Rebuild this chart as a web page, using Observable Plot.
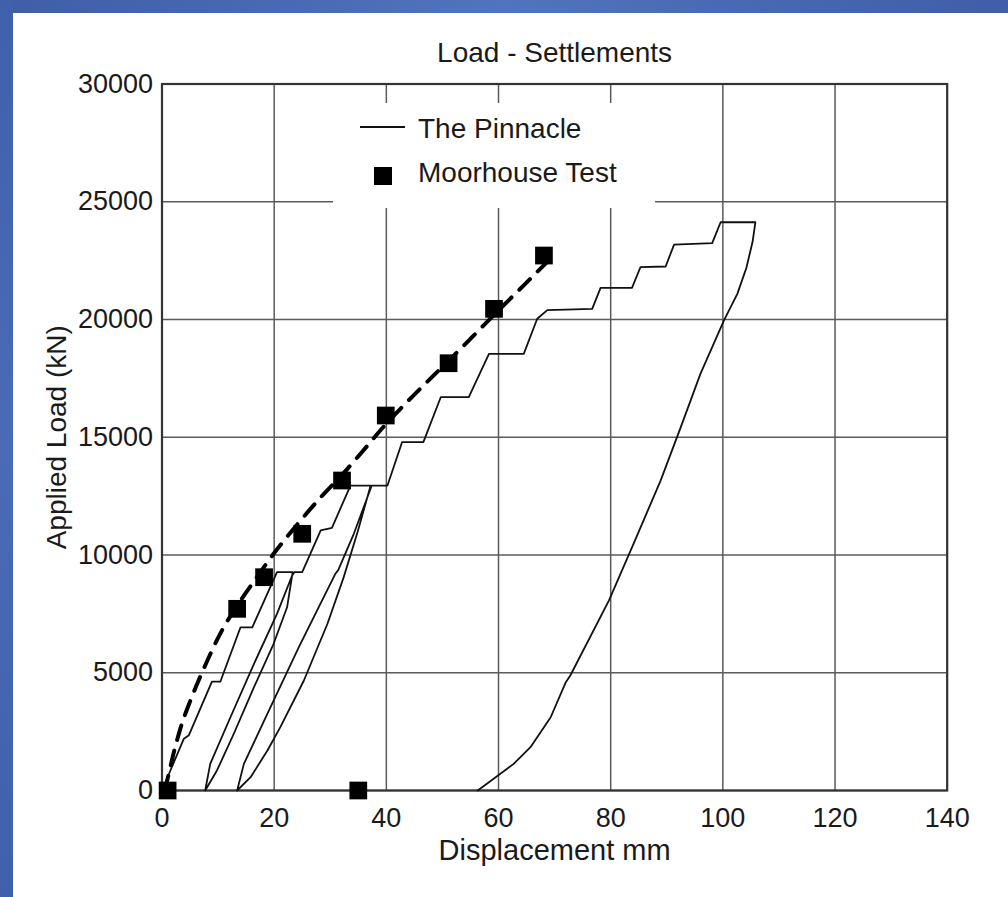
<!DOCTYPE html>
<html>
<head>
<meta charset="utf-8">
<script src="https://cdn.jsdelivr.net/npm/d3@7"></script>
<script src="https://cdn.jsdelivr.net/npm/@observablehq/plot@0.6"></script>
<style>
  html, body { margin: 0; padding: 0; overflow: hidden; background: #fff; }
  body { width: 1008px; height: 897px; position: relative; font-family: "Liberation Sans", Arial, sans-serif; }
  #bandTop { position: absolute; left: 0; top: 0; width: 1008px; height: 13px;
    background: linear-gradient(90deg, #3e5ea8 0%, #5074bd 50%, #3e5ea8 100%); }
  #bandLeft { position: absolute; left: 0; top: 0; width: 13px; height: 897px;
    background: linear-gradient(180deg, #3f60aa 0%, #4a6cb6 50%, #3f60aa 100%); }
  #panel { position: absolute; left: 13px; top: 13px; width: 995px; height: 884px; background: #fff; }
  #panel svg { display: block; }
  #legend { position: absolute; left: 320px; top: 90px; width: 322px; height: 105px; background: #fff; }
</style>
</head>
<body>
<div id="bandTop"></div>
<div id="bandLeft"></div>
<div id="panel">
  <div id="chart"></div>
  <div id="legend"></div>
</div>
<script>
// ---- data ----
const xTicks = [0, 20, 40, 60, 80, 100, 120, 140];
const yTicks = [0, 5000, 10000, 15000, 20000, 25000, 30000];

// The Pinnacle (load-settlement trace, in drawing order)
const pinnacleX = [0, 1.5, 3.9, 4.8, 8.9, 10.4, 14.0, 16.1, 20.5, 23.3,
  22.3, 19.9, 16.4, 12.8, 9.8, 7.7,
  8.6, 12.2, 16.4, 20.5, 23.2, 23.6, 25.0,
  28.3, 30.3, 33.6, 37.2,
  34.9, 32.4, 29.5, 25.3, 21.1, 18.8, 15.8, 13.4,
  14.6, 18.8, 24.4, 30.9, 31.4, 34.2, 37.4, 40.2,
  42.8, 46.6, 49.7, 54.7, 58.3, 64.5, 66.9, 68.7, 76.7, 78.2, 83.8, 85.3, 89.8, 91.3, 98.1, 99.6, 105.8,
  105.3, 104.2, 102.6, 100.2, 96.0, 92.5, 88.9, 84.3, 79.7, 72.8, 72.0, 69.3, 65.7, 62.7, 56.3];
const pinnacleY = [0, 850, 2200, 2350, 4620, 4620, 6930, 6930, 9270, 9270,
  7780, 6230, 4390, 2410, 850, 0,
  1130, 3110, 5380, 7500, 9130, 9270, 9270,
  11050, 11150, 12950, 12950,
  11000, 9060, 7080, 4670, 2690, 1700, 565, 0,
  1130, 3260, 6090, 9200, 9350, 10900, 12950, 12950,
  14790, 14790, 16700, 16700, 18540, 18540, 20030, 20400, 20450, 21340, 21340, 22220, 22250, 23180, 23240, 24130, 24130,
  23300, 22200, 21100, 19960, 17690, 15430, 13160, 10600, 8070, 4883, 4600, 3110, 1840, 1130, 0];

// Moorhouse Test points
const moorX = [1, 35.0, 13.4, 18.2, 25.0, 32.1, 39.9, 51.1, 59.2, 68.1];
const moorY = [0, 0, 7715, 9057, 10900, 13163, 15923, 18143, 20453, 22716];

// Dashed trend through Moorhouse results
const trendX = [0.5, 1.2, 2.2, 3.3, 5.2, 7.4, 10.7, 13.4, 16.0, 19.9, 24.3, 28.3, 32.1, 35.4, 39.9, 43.7, 47.9, 51.1, 55.9, 59.2, 64.5, 68.7];
const trendY = [0, 700, 1700, 2650, 3900, 5150, 6800, 7850, 8750, 10050, 11350, 12450, 13400, 14300, 15550, 16500, 17500, 18250, 19400, 20200, 21450, 22450];

const titleText = "Load - Settlements";
const xLabel = "Displacement mm";
const yLabel = "Applied Load (kN)";
const legendLabels = ["The Pinnacle", "Moorhouse Test"];

// ---- tables ----
const pinnacle = pinnacleX.map((x, i) => ({x, y: pinnacleY[i]}));
const moor = moorX.map((x, i) => ({x, y: moorY[i]}));
const trend = trendX.map((x, i) => ({x, y: trendY[i]}));

const FONT = '"Liberation Sans", Arial, sans-serif';
const INK = "#1a1a1a";

const chart = Plot.plot({
  width: 995,
  height: 884,
  marginLeft: 148.5,
  marginRight: 61.3,
  marginTop: 70.5,
  marginBottom: 107,
  style: {fontFamily: FONT, fontSize: "27px", color: INK, background: "transparent", overflow: "visible"},
  x: {domain: [0, 140], ticks: xTicks, tickSize: 0, tickPadding: 17, tickFormat: d => String(d), label: null},
  y: {domain: [0, 30000], ticks: yTicks, tickSize: 0, tickPadding: 9, tickFormat: d => String(d), label: null},
  marks: [
    Plot.gridX(xTicks, {stroke: "#5a5a5a", strokeOpacity: 1, strokeWidth: 1.5}),
    Plot.gridY(yTicks, {stroke: "#5a5a5a", strokeOpacity: 1, strokeWidth: 1.5}),
    Plot.frame({stroke: "#333", strokeWidth: 2.2}),
    Plot.line(pinnacle, {x: "x", y: "y", stroke: "#111", strokeWidth: 1.8, strokeLinejoin: "round"}),
    Plot.line(trend, {x: "x", y: "y", curve: "monotone-x", stroke: "#000", strokeWidth: 4, strokeDasharray: "15,11"}),
    Plot.dot(moor, {x: "x", y: "y", symbol: "square", r: 10, fill: "#000", stroke: "none"}),
    Plot.axisX({ticks: xTicks, tickSize: 0, tickPadding: 17, tickFormat: d => String(d), label: null, fontSize: 27}),
    Plot.axisY({ticks: yTicks, tickSize: 0, tickPadding: 9, tickFormat: d => String(d), label: null, fontSize: 27}),
    Plot.text([titleText], {text: d => d, frameAnchor: "top", lineAnchor: "middle", textAnchor: "middle", dy: -31, fontSize: 28, fill: INK}),
    Plot.text([xLabel], {text: d => d, frameAnchor: "bottom", lineAnchor: "middle", textAnchor: "middle", dy: 60, fontSize: 29, fill: INK}),
    Plot.text([yLabel], {text: d => d, frameAnchor: "left", lineAnchor: "middle", textAnchor: "middle", dx: -105, rotate: -90, fontSize: 28, fill: INK})
  ]
});
document.getElementById("chart").appendChild(chart);

// ---- legend (HTML box covering gridlines) ----
const ns = "http://www.w3.org/2000/svg";
const lg = document.createElementNS(ns, "svg");
lg.setAttribute("width", 322);
lg.setAttribute("height", 105);
lg.style.fontFamily = FONT;
lg.innerHTML = `
  <line x1="27" x2="72" y1="24" y2="24" stroke="#111" stroke-width="2"/>
  <text x="85" y="35" font-size="28" fill="${INK}">${legendLabels[0]}</text>
  <rect x="41" y="64" width="18" height="18" fill="#000"/>
  <text x="85" y="79" font-size="28" fill="${INK}">${legendLabels[1]}</text>`;
document.getElementById("legend").appendChild(lg);
</script>
</body>
</html>
